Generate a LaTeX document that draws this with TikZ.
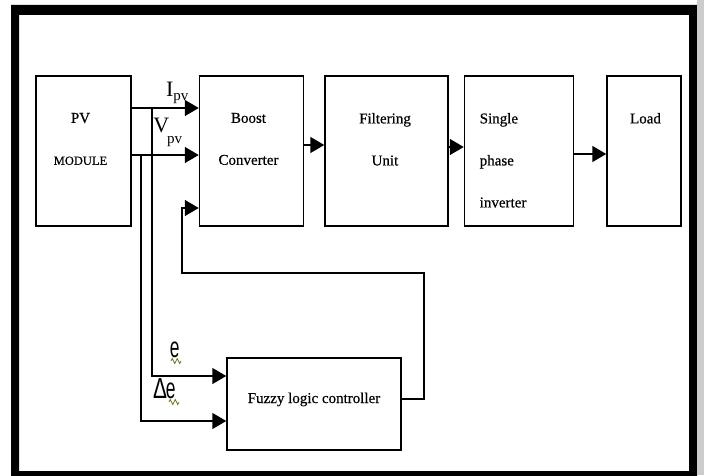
\documentclass[tikz,border=0pt]{standalone}
\usepackage{fontspec}
\setmainfont{Liberation Serif}
\newfontfamily\boxfont[FakeBold=0.5]{Liberation Serif}
\newfontfamily\labelsans{Liberation Sans}
\usepackage{graphicx}
\usetikzlibrary{arrows.meta,positioning,decorations.pathmorphing}

\begin{document}
\begin{tikzpicture}[x=1pt, y=1pt, >={Triangle[length=14pt,width=16pt]}, line width=1.5pt, node distance=20pt] % Styles
\tikzstyle{block}=[draw, line width=1.5pt, minimum height=150pt, inner sep=0pt]
\tikzstyle{blocktext}=[anchor=north, align=center, inner sep=0pt, font=\boxfont\fontsize{15}{42}\selectfont]
\tikzstyle{signal}=[anchor=base west, inner sep=0pt, font=\fontsize{22}{22}\selectfont]
\tikzstyle{errlabel}=[anchor=base west, inner sep=0pt, font=\labelsans\fontsize{29}{29}\selectfont]
\tikzstyle{squiggle}=[draw=olive!80!black, line width=0.7pt, decorate, decoration={zigzag, segment length=5pt, amplitude=2.5pt}] % Frame
\useasboundingbox (0,0) rectangle (704,475);
\fill[even odd rule] (11,-6) rectangle (697,470) (19,4) rectangle (689,460);
\fill[gray!40] (697,0) rectangle (704,475); % Nodes
\node[block, minimum width=95pt] (pv) at (83.5,324) {};
\node[block, minimum width=104pt, right=67pt of pv] (boost) {};
\node[block, minimum width=123pt, right=20pt of boost] (filter) {};
\node[block, minimum width=109pt, right=15pt of filter] (inverter) {};
\node[block, minimum width=74pt, right=32pt of inverter] (load) {};
\node[block, minimum width=174pt, minimum height=92pt, font=\boxfont\fontsize{15}{15}\selectfont, text height=10pt, text depth=12pt] (flc) at (314,71) {Fuzzy logic controller}; % Box texts
\node[blocktext, xshift=-3pt] (pvtext) at ([yshift=-37pt]pv.north) {PV\\{\fontsize{12.5}{12.5}\selectfont MODULE}};
\node[blocktext, xshift=-3pt] (boosttext) at ([yshift=-37pt]boost.north) {Boost\\Converter};
\node[blocktext, xshift=-1.5pt] (filtertext) at ([yshift=-37pt]filter.north) {Filtering\\Unit};
\node[blocktext, anchor=north west, align=left] (invertertext) at ([yshift=-37pt]inverter.north west -| 479,0) {Single\\phase\\inverter};
\node[blocktext, xshift=1.5pt] (loadtext) at ([yshift=-37pt]load.north) {Load};
\coordinate (itap) at (152,367);
\coordinate (vtap) at (141,320); % Connections
\draw[->] (pv.east |- itap) -- node[signal, pos=0.5, yshift=11pt] (ipv) {I\raisebox{-4pt}{\fontsize{15}{15}\selectfont pv}} (boost.west |- itap);
\draw[->] (pv.east |- vtap) -- node[signal, pos=0.31, yshift=23pt] (vpv) {V\kern-2pt\raisebox{-11pt}{\fontsize{15}{15}\selectfont pv}} (boost.west |- vtap);
\draw[->] (boost.east |- 0,330) -- (filter.west |- 0,330);
\draw[->] (filter.east |- 0,328) -- (inverter.west |- 0,328);
\draw[->] (inverter.east |- 0,321) -- (load.west |- 0,321);
\draw[->] (itap) |- (flc.west |- 0,99);
\draw[->] (vtap) |- (flc.west |- 0,54);
\draw[->] (flc.east |- 0,76) -| (424,202) -| (182,267) -- (boost.west |- 0,267); % Error labels
\node[errlabel] (err) at (169,118) {\scalebox{0.6}[1]{e}};
\node[errlabel] (derr) at (153,77) {\scalebox{0.72}[1]{\kern-1pt Δ}\kern-1pt\scalebox{0.6}[1]{e}};
\path[squiggle] ([shift={(2pt,-4pt)}]err.base west) -- ++(10,0);
\path[squiggle] ([shift={(16pt,-4pt)}]derr.base west) -- ++(10,0);
\end{tikzpicture}
\end{document}
